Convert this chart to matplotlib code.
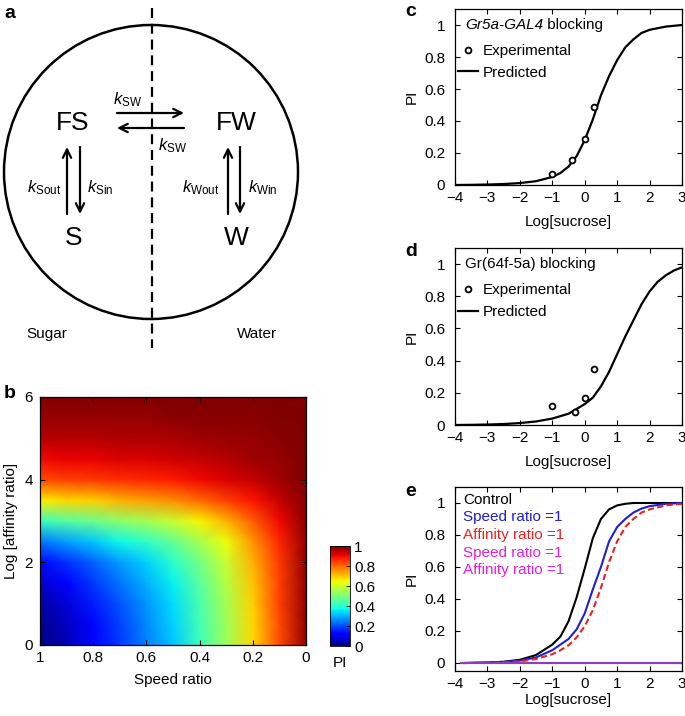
import matplotlib
matplotlib.use("Agg")
import matplotlib.pyplot as plt
import numpy as np
from matplotlib.patches import Circle
from matplotlib.lines import Line2D
from matplotlib.ticker import FormatStrFormatter

plt.rcParams['font.family'] = ['Liberation Sans', 'DejaVu Sans']
plt.rcParams['mathtext.fontset'] = 'custom'
plt.rcParams['mathtext.rm'] = 'Liberation Sans'
plt.rcParams['mathtext.it'] = 'Liberation Sans:italic'
plt.rcParams['font.size'] = 11

# ---- panel b: PI over speed ratio (columns) x log affinity ratio (rows)
speed_ratio = [1.0, 0.9, 0.8, 0.7, 0.6, 0.5, 0.4, 0.3, 0.2, 0.1, 0.0]
log_affinity = [0, 0.5, 1, 1.5, 2, 2.5, 3, 3.5, 4, 4.5, 5, 5.5, 6]
pi_grid = [
    [0.00, 0.05, 0.12, 0.18, 0.25, 0.32, 0.42, 0.54, 0.68, 0.83, 0.98],
    [0.01, 0.06, 0.13, 0.19, 0.26, 0.33, 0.43, 0.54, 0.68, 0.83, 0.98],
    [0.03, 0.08, 0.15, 0.21, 0.27, 0.34, 0.44, 0.55, 0.69, 0.84, 0.98],
    [0.07, 0.12, 0.18, 0.24, 0.30, 0.36, 0.46, 0.57, 0.70, 0.84, 0.98],
    [0.13, 0.17, 0.22, 0.28, 0.33, 0.40, 0.49, 0.59, 0.72, 0.85, 0.98],
    [0.24, 0.28, 0.32, 0.37, 0.41, 0.47, 0.55, 0.64, 0.75, 0.87, 0.98],
    [0.42, 0.45, 0.48, 0.52, 0.55, 0.59, 0.65, 0.72, 0.81, 0.90, 0.99],
    [0.66, 0.68, 0.69, 0.72, 0.74, 0.76, 0.80, 0.84, 0.89, 0.94, 0.99],
    [0.83, 0.84, 0.85, 0.86, 0.87, 0.88, 0.90, 0.92, 0.94, 0.97, 1.00],
    [0.90, 0.91, 0.91, 0.92, 0.92, 0.93, 0.94, 0.95, 0.97, 0.98, 1.00],
    [0.95, 0.95, 0.95, 0.96, 0.96, 0.96, 0.97, 0.98, 0.98, 0.99, 1.00],
    [0.98, 0.98, 0.98, 0.98, 0.98, 0.99, 0.99, 0.99, 0.99, 1.00, 1.00],
    [1.00, 1.00, 1.00, 1.00, 1.00, 1.00, 1.00, 1.00, 1.00, 1.00, 1.00],
]

# ---- panel c: Gr5a-GAL4 blocking
c_exp_x = [-1, -0.4, 0, 0.3]
c_exp_y = [0.07, 0.155, 0.29, 0.49]
c_pred_x = [-4, -3.5, -3, -2.5, -2, -1.5, -1, -0.75, -0.5, -0.25, 0, 0.25,
            0.5, 0.75, 1, 1.25, 1.5, 1.75, 2, 2.5, 3]
c_pred_y = [0.0, 0.001, 0.003, 0.006, 0.012, 0.024, 0.05, 0.075, 0.115, 0.18,
            0.28, 0.41, 0.56, 0.68, 0.78, 0.86, 0.91, 0.95, 0.97, 0.99, 1.0]

# ---- panel d: Gr(64f-5a) blocking
d_exp_x = [-1, -0.3, 0, 0.3]
d_exp_y = [0.12, 0.083, 0.17, 0.345]
d_pred_x = [-4, -3.5, -3, -2.5, -2, -1.5, -1, -0.5, 0, 0.25, 0.5, 0.75, 1,
            1.25, 1.5, 1.75, 2, 2.25, 2.5, 2.75, 3]
d_pred_y = [0.0, 0.001, 0.003, 0.006, 0.012, 0.022, 0.04, 0.07, 0.13, 0.17,
            0.24, 0.33, 0.44, 0.55, 0.65, 0.75, 0.83, 0.89, 0.93, 0.96, 0.98]

# ---- panel e: model variants
e_x = [-3.7, -3, -2.5, -2, -1.5, -1, -0.75, -0.5, -0.25, 0, 0.25, 0.5, 0.75,
       1, 1.25, 1.5, 1.75, 2, 2.5, 3]
e_control = [0.0, 0.003, 0.008, 0.02, 0.05, 0.115, 0.165, 0.26, 0.41, 0.59,
             0.78, 0.9, 0.96, 0.985, 0.995, 1.0, 1.0, 1.0, 1.0, 1.0]
e_speed = [0.0, 0.002, 0.006, 0.015, 0.035, 0.08, 0.115, 0.15, 0.21, 0.31,
           0.46, 0.6, 0.76, 0.85, 0.9, 0.94, 0.965, 0.98, 0.995, 1.0]
e_affinity = [0.0, 0.001, 0.004, 0.01, 0.025, 0.055, 0.08, 0.11, 0.16, 0.23,
              0.33, 0.47, 0.63, 0.76, 0.85, 0.9, 0.94, 0.96, 0.985, 0.995]
e_both_x = [-3.8, 3]
e_both = [0.0, 0.0]
e_labels = ['Control', 'Speed ratio =1', 'Affinity ratio =1', 'Speed ratio =1',
            'Affinity ratio =1']

W, H = 685, 716
fig = plt.figure(figsize=(W / 100, H / 100), dpi=100)


def px_axes(left, top, right, bottom):
    return fig.add_axes([left / W, 1 - bottom / H, (right - left) / W, (bottom - top) / H])


def style(ax):
    ax.tick_params(direction='in', top=True, right=True, length=3.5, width=0.8,
                   labelsize=11)
    ax.tick_params(axis='x', pad=4)
    ax.tick_params(axis='y', pad=7)
    for s in ax.spines.values():
        s.set_linewidth(0.9)


# ---------------- panel a: schematic
axa = px_axes(0, 0, 330, 350)
axa.set_xlim(0, 330)
axa.set_ylim(350, 0)
axa.axis('off')
axa.add_patch(Circle((151, 172), 147, fill=False, lw=1.8, color='black'))
axa.plot([152, 152], [8, 348], color='black', lw=1.6, dashes=(4.5, 2.6))
for txt, x, y in [('FS', 73, 123), ('FW', 236, 123), ('S', 74, 238), ('W', 236, 238)]:
    axa.text(x, y, txt, fontsize=19, ha='center', va='center')
arrow = dict(arrowstyle='->', lw=1.6, color='black', shrinkA=0, shrinkB=0,
             mutation_scale=15)
axa.annotate('', xy=(184, 113), xytext=(117, 113), arrowprops=arrow)
axa.annotate('', xy=(117, 128), xytext=(184, 128), arrowprops=arrow)
axa.annotate('', xy=(67, 147), xytext=(67, 214), arrowprops=arrow)
axa.annotate('', xy=(80, 214), xytext=(80, 147), arrowprops=arrow)
axa.annotate('', xy=(228, 147), xytext=(228, 214), arrowprops=arrow)
axa.annotate('', xy=(240, 214), xytext=(240, 147), arrowprops=arrow)
ks = 12
axa.text(128, 100, r'$k_{\mathrm{SW}}$', fontsize=ks, ha='center', va='center')
axa.text(173, 146, r'$k_{\mathrm{SW}}$', fontsize=ks, ha='center', va='center')
axa.text(61, 188, r'$k_{\mathrm{Sout}}$', fontsize=ks, ha='right', va='center')
axa.text(87, 188, r'$k_{\mathrm{Sin}}$', fontsize=ks, ha='left', va='center')
axa.text(219, 188, r'$k_{\mathrm{Wout}}$', fontsize=ks, ha='right', va='center')
axa.text(248, 188, r'$k_{\mathrm{Win}}$', fontsize=ks, ha='left', va='center')
axa.text(47, 334, 'Sugar', fontsize=11, ha='center', va='center')
axa.text(257, 334, 'Water', fontsize=11, ha='center', va='center')

# ---------------- panel b: heatmap
axb = px_axes(40, 397, 306, 645)
mesh = axb.pcolormesh(speed_ratio, log_affinity, np.array(pi_grid), cmap='jet',
                      vmin=0, vmax=1, shading='gouraud')
axb.set_xlim(1, 0)
axb.set_ylim(0, 6)
axb.set_xticks([1, 0.8, 0.6, 0.4, 0.2, 0])
axb.set_yticks([0, 2, 4, 6])
axb.xaxis.set_major_formatter(FormatStrFormatter('%g'))
style(axb)
axb.tick_params(axis='y', pad=5)
axb.set_xlabel('Speed ratio', fontsize=11, labelpad=6)
axb.set_ylabel('Log [affinity ratio]', fontsize=11, labelpad=5)

cax = px_axes(330, 546, 350, 646)
cb = fig.colorbar(mesh, cax=cax, ticks=[0, 0.2, 0.4, 0.6, 0.8, 1])
cb.ax.yaxis.set_major_formatter(FormatStrFormatter('%g'))
cb.ax.tick_params(direction='in', length=3, width=0.6, labelsize=11, pad=3)
cb.outline.set_linewidth(0.6)
cax.set_xlabel('PI', fontsize=11, labelpad=7)


# ---------------- panels c, d, e
def curve_axes(ax, ylim, xpad):
    ax.set_xlim(-4, 3)
    ax.set_ylim(*ylim)
    ax.set_xticks(range(-4, 4))
    ax.set_yticks([0, 0.2, 0.4, 0.6, 0.8, 1])
    ax.yaxis.set_major_formatter(FormatStrFormatter('%g'))
    style(ax)
    ax.set_xlabel('Log[sucrose]', fontsize=11, labelpad=xpad)
    ax.set_ylabel('PI', fontsize=11, labelpad=4)


def fit_panel(ax, ex, ey, px, py, title_parts):
    ax.plot(px, py, color='black', lw=1.6)
    ax.plot(ex, ey, 'o', ms=4.2, mfc='white', mec='black', mew=1.3)
    curve_axes(ax, (0, 1.1), 7.5)
    handles = [Line2D([], [], ls='none', marker='o', ms=4.2, mfc='white',
                      mec='black', mew=1.3),
               Line2D([], [], color='black', lw=1.6)]
    ax.legend(handles, ['Experimental', 'Predicted'], loc='upper left',
              bbox_to_anchor=(0.012, 0.80), frameon=False, fontsize=11,
              handlelength=1.3, handletextpad=0.35, labelspacing=0.5,
              borderaxespad=0, borderpad=0)
    prev = None
    for txt, style_ in title_parts:
        if prev is None:
            prev = ax.text(0.044, 0.908, txt, transform=ax.transAxes,
                           fontsize=11, fontstyle=style_, ha='left', va='center')
        else:
            prev = ax.annotate(txt, xy=(1, 0), xycoords=prev, fontsize=11,
                               fontstyle=style_, ha='left', va='bottom')


axc = px_axes(455, 9, 682, 185)
fit_panel(axc, c_exp_x, c_exp_y, c_pred_x, c_pred_y,
          [('Gr5a-GAL4', 'italic'), (' blocking', 'normal')])

axd = px_axes(455, 248, 682, 425)
fit_panel(axd, d_exp_x, d_exp_y, d_pred_x, d_pred_y,
          [('Gr(64f-5a) blocking', 'normal')])

axe = px_axes(455, 487, 682, 671)
e_colors = ['black', '#1f1fd6', '#e8231f', '#e020e0', '#e020e0']
l1, = axe.plot(e_x, e_control, color='black', lw=1.5)
l2, = axe.plot(e_x, e_speed, color='#1f1fd6', lw=1.5)
l3, = axe.plot(e_x, e_affinity, color='#e8231f', lw=1.5, ls=(0, (3, 1.6)))
l4, = axe.plot(e_both_x, e_both, color='#8a40b8', lw=1.5)
l5, = axe.plot(e_both_x, e_both, color='#8a40b8', lw=1.5)
curve_axes(axe, (-0.05, 1.1), 2)
axe.legend([l1, l2, l3, l4, l5], e_labels, loc='upper left',
           bbox_to_anchor=(0.035, 0.97), frameon=False, fontsize=11,
           handlelength=0, handletextpad=0, labelspacing=0.24,
           borderaxespad=0, borderpad=0, labelcolor=e_colors)
for h in axe.get_legend().legend_handles:
    h.set_visible(False)

# panel letters
for letter, x, y in [('a', 4, 13), ('b', 4, 393), ('c', 405, 12), ('d', 405, 252),
                     ('e', 405, 492)]:
    fig.text(x / W, 1 - y / H, letter, fontsize=14, fontweight='bold',
             ha='left', va='center')

fig.savefig('out.png', dpi=100)
